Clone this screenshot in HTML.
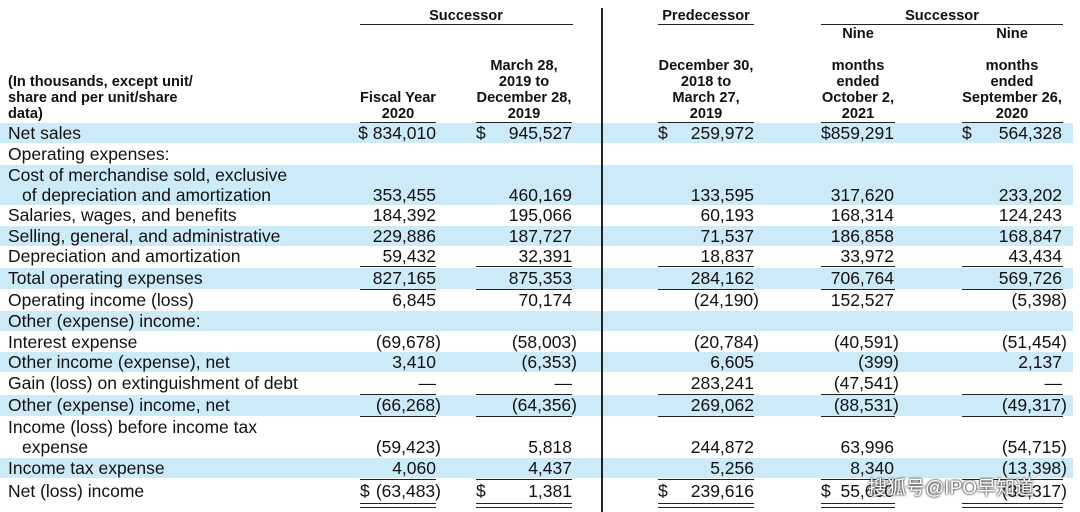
<!DOCTYPE html>
<html><head><meta charset="utf-8"><style>
body{margin:0;width:1080px;height:512px;background:#fff;position:relative;overflow:hidden;font-family:"Liberation Sans",Arial,sans-serif;color:#111}
.b{position:absolute;left:0;width:1073px;background:#cdeaf9}
.t{position:absolute;font-size:17.5px;line-height:18px;white-space:nowrap}
.h{position:absolute;font-size:14.6px;font-weight:bold;line-height:16px;text-align:center;white-space:nowrap}
.l{position:absolute;height:1px;background:#222}
.r{text-align:right}
</style></head><body>
<div class="b" style="top:123px;height:20px"></div>
<div class="b" style="top:165px;height:40px"></div>
<div class="b" style="top:226px;height:20px"></div>
<div class="b" style="top:268px;height:21px"></div>
<div class="b" style="top:311px;height:20px"></div>
<div class="b" style="top:352px;height:20px"></div>
<div class="b" style="top:395px;height:21px"></div>
<div class="b" style="top:458px;height:20px"></div>
<div style="position:absolute;left:601px;top:8px;width:2px;height:504px;background:#222"></div>

<div class="h" style="left:366px;width:200px;top:8px">Successor</div>
<div class="l" style="left:360px;width:213px;top:24px"></div>
<div class="h" style="left:606px;width:200px;top:8px">Predecessor</div>
<div class="l" style="left:658px;width:96px;top:24px"></div>
<div class="h" style="left:842px;width:200px;top:8px">Successor</div>
<div class="l" style="left:821px;width:242px;top:24px"></div>
<div class="h" style="left:808px;width:100px;top:26px">Nine</div>
<div class="h" style="left:962px;width:100px;top:26px">Nine</div>

<div class="h" style="left:8px;top:74px;text-align:left">(In thousands, except unit/<br>share and per unit/share<br>data)</div>
<div class="h" style="left:318px;width:160px;top:90px">Fiscal Year<br>2020</div>
<div class="h" style="left:444px;width:160px;top:58px">March 28,<br>2019 to<br>December 28,<br>2019</div>
<div class="h" style="left:626px;width:160px;top:58px">December 30,<br>2018 to<br>March 27,<br>2019</div>
<div class="h" style="left:778px;width:160px;top:58px">months<br>ended<br>October 2,<br>2021</div>
<div class="h" style="left:932px;width:160px;top:58px">months<br>ended<br>September 26,<br>2020</div>
<div class="l" style="left:360px;width:76px;top:122px"></div>
<div class="l" style="left:476px;width:96px;top:122px"></div>
<div class="l" style="left:658px;width:96px;top:122px"></div>
<div class="l" style="left:821px;width:74px;top:122px"></div>
<div class="l" style="left:962px;width:101px;top:122px"></div>

<div class="t" style="left:8px;top:124px">Net sales</div>
<div class="t" style="left:8px;top:145px">Operating expenses:</div>
<div class="t" style="left:8px;top:166px">Cost of merchandise sold, exclusive</div>
<div class="t" style="left:22px;top:186px">of depreciation and amortization</div>
<div class="t" style="left:8px;top:206px">Salaries, wages, and benefits</div>
<div class="t" style="left:8px;top:227px">Selling, general, and administrative</div>
<div class="t" style="left:8px;top:247px">Depreciation and amortization</div>
<div class="t" style="left:8px;top:269px">Total operating expenses</div>
<div class="t" style="left:8px;top:291px">Operating income (loss)</div>
<div class="t" style="left:8px;top:312px">Other (expense) income:</div>
<div class="t" style="left:8px;top:333px">Interest expense</div>
<div class="t" style="left:8px;top:353px">Other income (expense), net</div>
<div class="t" style="left:8px;top:374px">Gain (loss) on extinguishment of debt</div>
<div class="t" style="left:8px;top:396px">Other (expense) income, net</div>
<div class="t" style="left:8px;top:418px">Income (loss) before income tax</div>
<div class="t" style="left:22px;top:438px">expense</div>
<div class="t" style="left:8px;top:459px">Income tax expense</div>
<div class="t" style="left:8px;top:482px">Net (loss) income</div>

<div class="t r" style="right:644px;top:124px">$ 834,010</div>
<div class="t" style="left:476px;top:124px">$</div><div class="t r" style="right:508px;top:124px">945,527</div>
<div class="t" style="left:658px;top:124px">$</div><div class="t r" style="right:326px;top:124px">259,972</div>
<div class="t r" style="right:186px;top:124px">$859,291</div>
<div class="t" style="left:962px;top:124px">$</div><div class="t r" style="right:18px;top:124px">564,328</div>

<div class="t r" style="right:644px;top:186px">353,455</div><div class="t r" style="right:508px;top:186px">460,169</div><div class="t r" style="right:326px;top:186px">133,595</div><div class="t r" style="right:186px;top:186px">317,620</div><div class="t r" style="right:18px;top:186px">233,202</div>
<div class="t r" style="right:644px;top:206px">184,392</div><div class="t r" style="right:508px;top:206px">195,066</div><div class="t r" style="right:326px;top:206px">60,193</div><div class="t r" style="right:186px;top:206px">168,314</div><div class="t r" style="right:18px;top:206px">124,243</div>
<div class="t r" style="right:644px;top:227px">229,886</div><div class="t r" style="right:508px;top:227px">187,727</div><div class="t r" style="right:326px;top:227px">71,537</div><div class="t r" style="right:186px;top:227px">186,858</div><div class="t r" style="right:18px;top:227px">168,847</div>
<div class="t r" style="right:644px;top:247px">59,432</div><div class="t r" style="right:508px;top:247px">32,391</div><div class="t r" style="right:326px;top:247px">18,837</div><div class="t r" style="right:186px;top:247px">33,972</div><div class="t r" style="right:18px;top:247px">43,434</div>
<div class="l" style="left:360px;width:76px;top:266px"></div><div class="l" style="left:476px;width:96px;top:266px"></div><div class="l" style="left:658px;width:96px;top:266px"></div><div class="l" style="left:821px;width:74px;top:266px"></div><div class="l" style="left:962px;width:101px;top:266px"></div>
<div class="t r" style="right:644px;top:269px">827,165</div><div class="t r" style="right:508px;top:269px">875,353</div><div class="t r" style="right:326px;top:269px">284,162</div><div class="t r" style="right:186px;top:269px">706,764</div><div class="t r" style="right:18px;top:269px">569,726</div>
<div class="l" style="left:360px;width:76px;top:289px"></div><div class="l" style="left:476px;width:96px;top:289px"></div><div class="l" style="left:658px;width:96px;top:289px"></div><div class="l" style="left:821px;width:74px;top:289px"></div><div class="l" style="left:962px;width:101px;top:289px"></div>
<div class="t r" style="right:644px;top:291px">6,845</div><div class="t r" style="right:508px;top:291px">70,174</div><div class="t r" style="right:321px;top:291px">(24,190)</div><div class="t r" style="right:186px;top:291px">152,527</div><div class="t r" style="right:13px;top:291px">(5,398)</div>
<div class="t r" style="right:639px;top:333px">(69,678)</div><div class="t r" style="right:503px;top:333px">(58,003)</div><div class="t r" style="right:321px;top:333px">(20,784)</div><div class="t r" style="right:181px;top:333px">(40,591)</div><div class="t r" style="right:13px;top:333px">(51,454)</div>
<div class="t r" style="right:644px;top:353px">3,410</div><div class="t r" style="right:503px;top:353px">(6,353)</div><div class="t r" style="right:326px;top:353px">6,605</div><div class="t r" style="right:181px;top:353px">(399)</div><div class="t r" style="right:18px;top:353px">2,137</div>
<div class="t r" style="right:644px;top:374px">—</div><div class="t r" style="right:508px;top:374px">—</div><div class="t r" style="right:326px;top:374px">283,241</div><div class="t r" style="right:181px;top:374px">(47,541)</div><div class="t r" style="right:18px;top:374px">—</div>
<div class="l" style="left:360px;width:76px;top:394px"></div><div class="l" style="left:476px;width:96px;top:394px"></div><div class="l" style="left:658px;width:96px;top:394px"></div><div class="l" style="left:821px;width:74px;top:394px"></div><div class="l" style="left:962px;width:101px;top:394px"></div>
<div class="t r" style="right:639px;top:396px">(66,268)</div><div class="t r" style="right:503px;top:396px">(64,356)</div><div class="t r" style="right:326px;top:396px">269,062</div><div class="t r" style="right:181px;top:396px">(88,531)</div><div class="t r" style="right:13px;top:396px">(49,317)</div>
<div class="l" style="left:360px;width:76px;top:416px"></div><div class="l" style="left:476px;width:96px;top:416px"></div><div class="l" style="left:658px;width:96px;top:416px"></div><div class="l" style="left:821px;width:74px;top:416px"></div><div class="l" style="left:962px;width:101px;top:416px"></div>
<div class="t r" style="right:639px;top:438px">(59,423)</div><div class="t r" style="right:508px;top:438px">5,818</div><div class="t r" style="right:326px;top:438px">244,872</div><div class="t r" style="right:186px;top:438px">63,996</div><div class="t r" style="right:13px;top:438px">(54,715)</div>
<div class="t r" style="right:644px;top:459px">4,060</div><div class="t r" style="right:508px;top:459px">4,437</div><div class="t r" style="right:326px;top:459px">5,256</div><div class="t r" style="right:186px;top:459px">8,340</div><div class="t r" style="right:13px;top:459px">(13,398)</div>
<div class="l" style="left:360px;width:76px;top:479px"></div><div class="l" style="left:476px;width:96px;top:479px"></div><div class="l" style="left:658px;width:96px;top:479px"></div><div class="l" style="left:821px;width:74px;top:479px"></div><div class="l" style="left:962px;width:101px;top:479px"></div>
<div class="t" style="left:360px;top:482px">$</div><div class="t r" style="right:639px;top:482px">(63,483)</div>
<div class="t" style="left:476px;top:482px">$</div><div class="t r" style="right:508px;top:482px">1,381</div>
<div class="t" style="left:658px;top:482px">$</div><div class="t r" style="right:326px;top:482px">239,616</div>
<div class="t" style="left:821px;top:482px">$</div><div class="t r" style="right:186px;top:482px">55,600</div>
<div class="t r" style="right:13px;top:482px">(35,317)</div>
<div class="l" style="left:360px;width:76px;top:503px"></div><div class="l" style="left:476px;width:96px;top:503px"></div><div class="l" style="left:658px;width:96px;top:503px"></div><div class="l" style="left:821px;width:74px;top:503px"></div><div class="l" style="left:962px;width:101px;top:503px"></div>
<div class="l" style="left:360px;width:76px;top:507px"></div><div class="l" style="left:476px;width:96px;top:507px"></div><div class="l" style="left:658px;width:96px;top:507px"></div><div class="l" style="left:821px;width:74px;top:507px"></div><div class="l" style="left:962px;width:101px;top:507px"></div>
<div class="t" style="left:868px;top:480px;font-size:19px;color:#fff;font-family:'Liberation Sans','Noto Sans CJK SC',sans-serif;text-shadow:0 0 2px #333,0 0 2px #333">搜狐号@IPO早知道</div>
</body></html>
